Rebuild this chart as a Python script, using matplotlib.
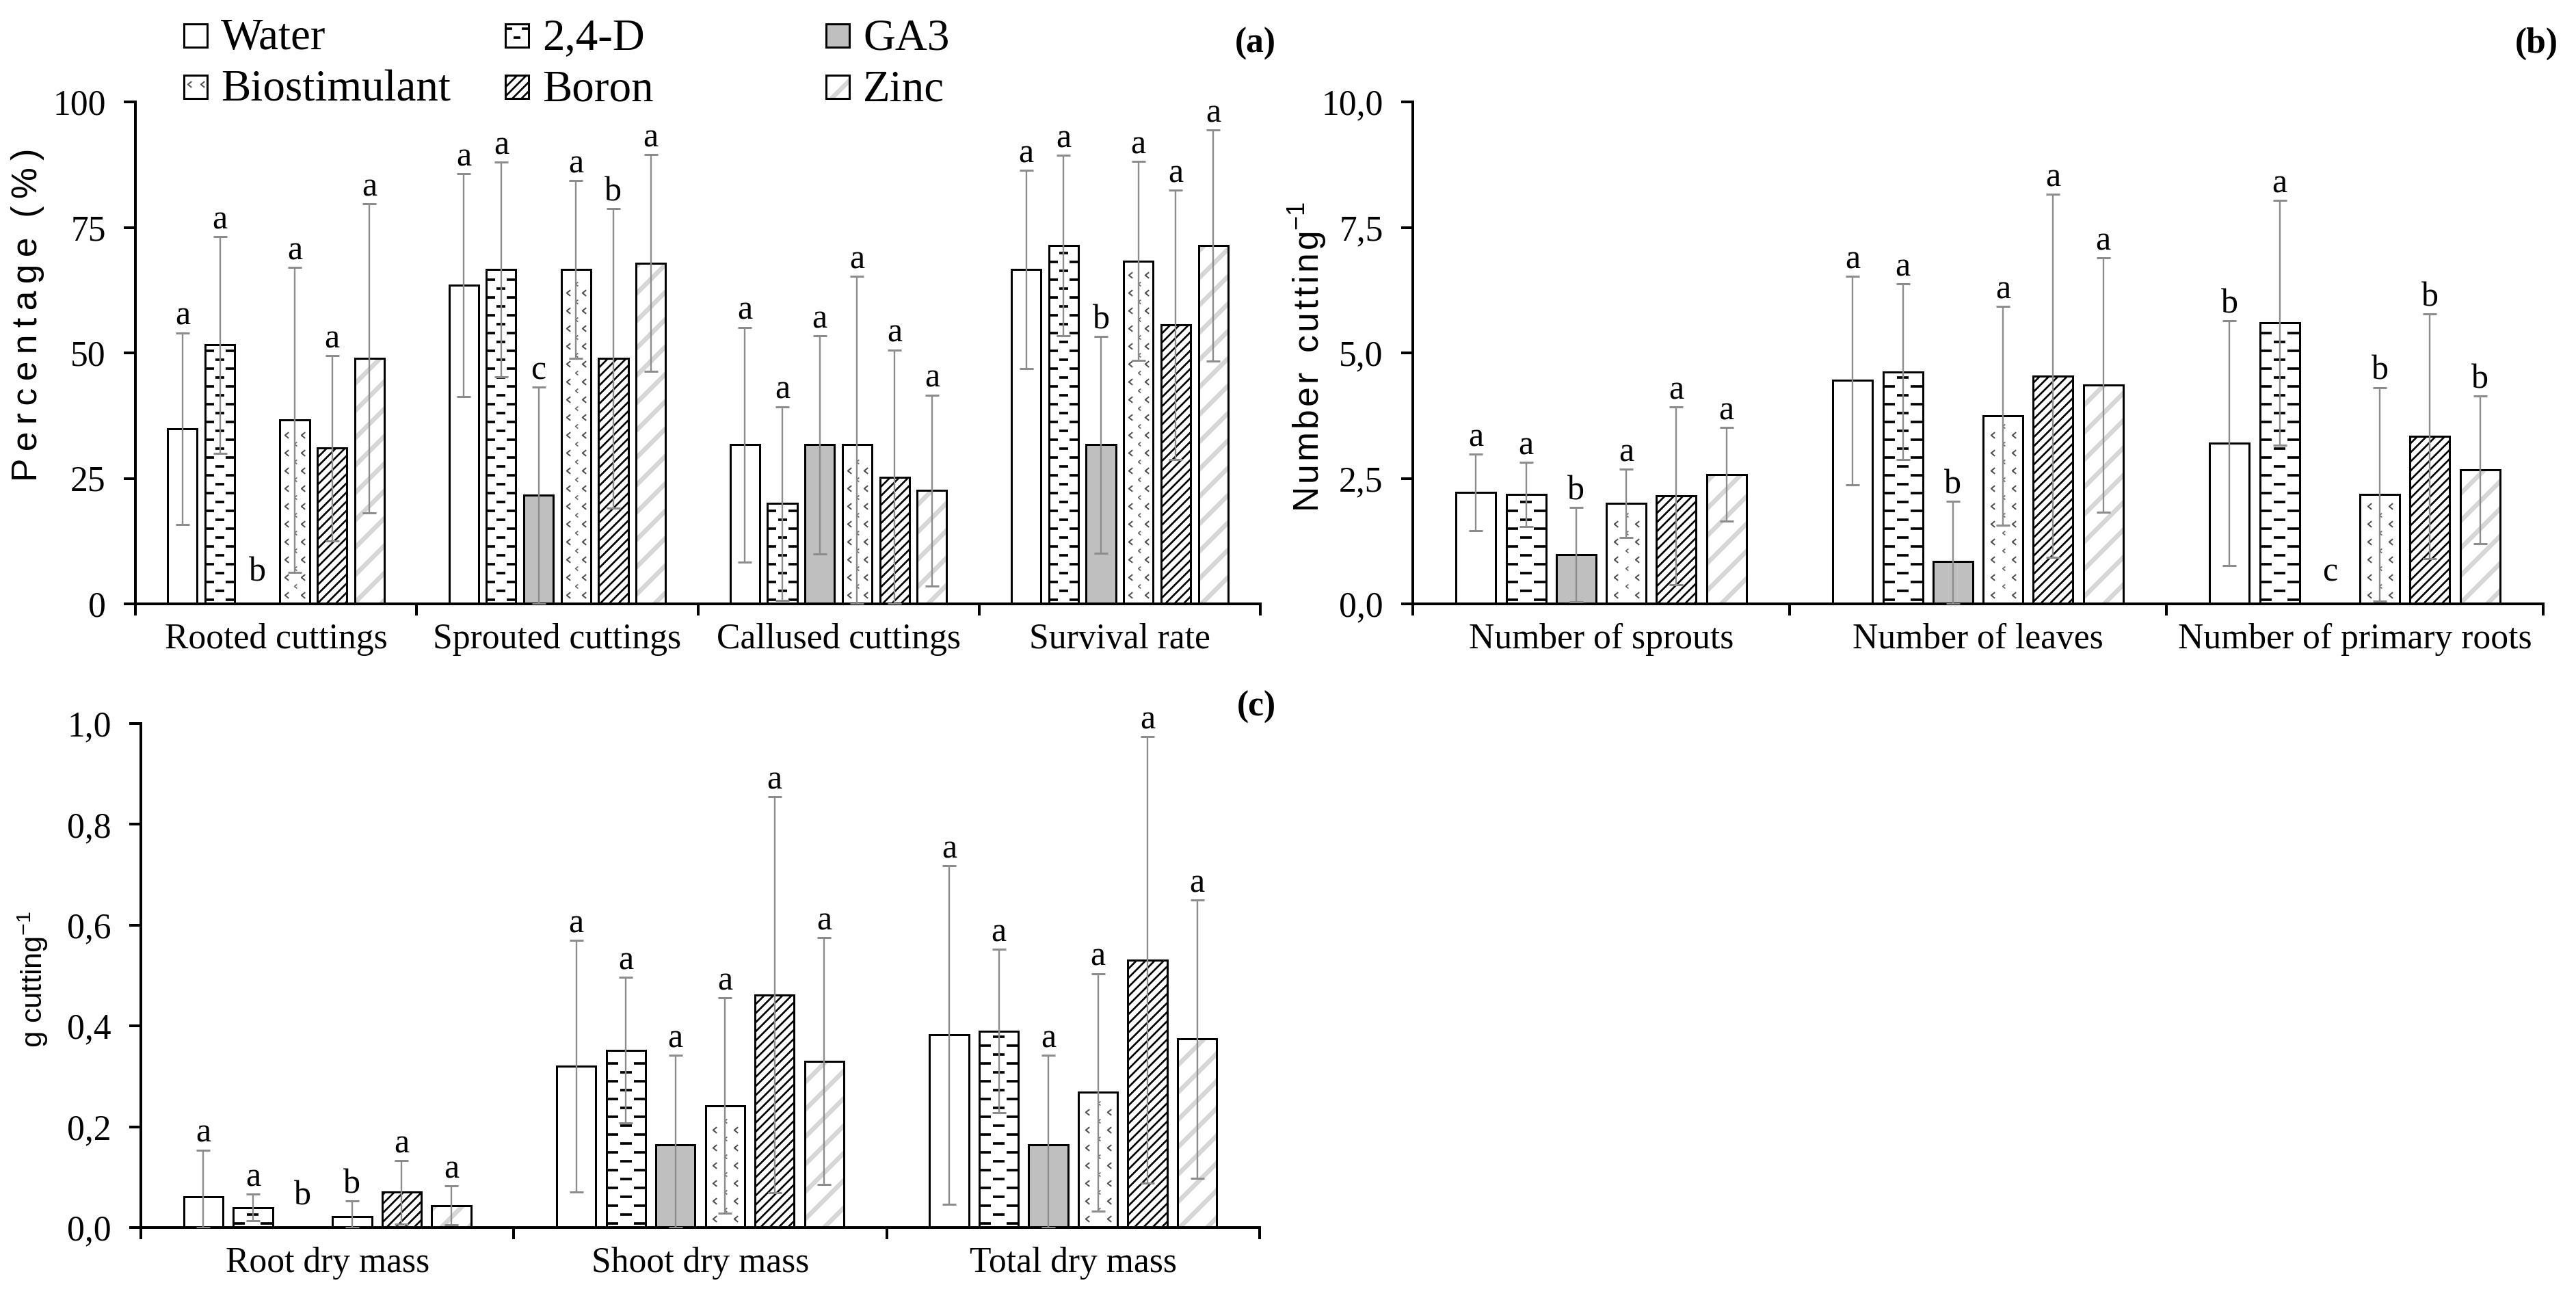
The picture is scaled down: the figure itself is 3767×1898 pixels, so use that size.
import numpy as np
import matplotlib.pyplot as plt
from matplotlib.path import Path
from matplotlib.collections import LineCollection

W, H, DPI = 3767, 1898, 240

plt.rcParams['font.family'] = ['Liberation Serif', 'DejaVu Serif']
plt.rcParams['hatch.linewidth'] = 0.8

treatments = ['Water', '2,4-D', 'GA3', 'Biostimulant', 'Boron', 'Zinc']

# (a) percentage
cats_a = ['Rooted cuttings', 'Sprouted cuttings', 'Callused cuttings', 'Survival rate']
mean_a = [[34.9, 51.6, 0.0, 36.6, 31.0, 48.9],
          [63.5, 66.6, 21.6, 66.6, 48.9, 67.9],
          [31.7, 20.0, 31.7, 31.7, 25.2, 22.6],
          [66.6, 71.4, 31.7, 68.3, 55.6, 71.4]]
sd_a = [[19.1, 21.6, 0.0, 30.4, 18.5, 30.8],
        [22.2, 21.4, 21.6, 17.7, 29.8, 21.6],
        [23.4, 19.3, 21.7, 33.5, 25.4, 19.0],
        [19.8, 18.0, 21.6, 19.8, 26.8, 23.0]]
let_a = [['a', 'a', 'b', 'a', 'a', 'a'],
         ['a', 'a', 'c', 'a', 'b', 'a'],
         ['a', 'a', 'a', 'a', 'a', 'a'],
         ['a', 'a', 'b', 'a', 'a', 'a']]

# (b) number per cutting
cats_b = ['Number of sprouts', 'Number of leaves', 'Number of primary roots']
mean_b = [[2.22, 2.18, 0.98, 2.00, 2.15, 2.58],
          [4.45, 4.62, 0.84, 3.74, 4.54, 4.36],
          [3.20, 5.60, 0.0, 2.18, 3.34, 2.67]]
sd_b = [[0.76, 0.64, 0.94, 0.68, 1.77, 0.93],
        [2.08, 1.75, 1.20, 2.18, 3.62, 2.53],
        [2.44, 2.44, 0.0, 2.13, 2.44, 1.47]]
let_b = [['a', 'a', 'b', 'a', 'a', 'a'],
         ['a', 'a', 'b', 'a', 'a', 'a'],
         ['b', 'a', 'c', 'b', 'b', 'b']]

# (c) dry mass
cats_c = ['Root dry mass', 'Shoot dry mass', 'Total dry mass']
mean_c = [[0.061, 0.040, 0.0, 0.022, 0.070, 0.044],
          [0.320, 0.352, 0.164, 0.242, 0.462, 0.330],
          [0.382, 0.390, 0.164, 0.268, 0.531, 0.374]]
sd_c = [[0.093, 0.026, 0.0, 0.031, 0.063, 0.039],
        [0.250, 0.144, 0.178, 0.214, 0.393, 0.245],
        [0.336, 0.162, 0.178, 0.236, 0.443, 0.276]]
let_c = [['a', 'a', 'b', 'b', 'a', 'a'],
         ['a', 'a', 'a', 'a', 'a', 'a'],
         ['a', 'a', 'a', 'a', 'a', 'a']]

chevron = Path([(0.5, 0.8), (-0.5, 0.0), (0.5, -0.8)],
               [Path.MOVETO, Path.LINETO, Path.LINETO])


def draw_bar(ax, k, x0, w, y0, y1, sx, sy):
    # sx, sy: pixels per data unit
    lo, hi = min(y0, y1), max(y0, y1)
    hpx = (hi - lo) * abs(sy)
    if k == 2:
        ax.bar(x0, y1 - y0, w, y0, align='edge', color='#bfbfbf', edgecolor='black', lw=0.9, zorder=2)
        return
    if k == 4:
        b = ax.bar(x0, y1 - y0, w, y0, align='edge', color='white', edgecolor='black',
                   hatch='//////', lw=0.9, zorder=2)
        for p in b:
            if hasattr(p, 'set_hatch_linewidth'):
                p.set_hatch_linewidth(0.8)
        return
    if k == 5:
        b = ax.bar(x0, y1 - y0, w, y0, align='edge', color='white', edgecolor='#d6d6d6',
                   hatch='//', lw=0, zorder=2)
        for p in b:
            if hasattr(p, 'set_hatch_linewidth'):
                p.set_hatch_linewidth(2.0)
        ax.bar(x0, y1 - y0, w, y0, align='edge', fill=False, edgecolor='black', lw=0.9, zorder=3)
        return
    ax.bar(x0, y1 - y0, w, y0, align='edge', color='white', edgecolor='black', lw=0.9, zorder=2)
    if k == 1:
        step = 13.0 / abs(sy)
        n = int(hpx / 13.0)
        segs = []
        for r in range(n):
            y = lo + step * (r + 0.5)
            if r % 2 == 0:
                segs.append([(x0, y), (x0 + 0.3 * w, y)])
                segs.append([(x0 + 0.7 * w, y), (x0 + w, y)])
            else:
                segs.append([(x0 + 0.35 * w, y), (x0 + 0.65 * w, y)])
        ax.add_collection(LineCollection(segs, colors='black', linewidths=1.1, zorder=2.5))
    elif k == 3:
        step = 26.0 / abs(sy)
        n = int(hpx / 26.0)
        ys = lo + step * (np.arange(n) + 0.5)
        for fx in (0.23, 0.78):
            ax.plot(np.full(n, x0 + fx * w), ys, ls='none', marker=chevron, ms=2.6,
                    mfc='none', mec='#4d4d4d', mew=0.6, zorder=2.5)
        m = int((hpx - 13.0) / 26.0)
        if m > 0:
            ym = lo + step * (np.arange(m) + 1.0)
            ax.plot(np.full(m, x0 + 0.52 * w), ym, ls='none', marker=chevron, ms=1.8,
                    mfc='none', mec='#666666', mew=0.5, zorder=2.5)


fig = plt.figure(figsize=(W / DPI, H / DPI), dpi=DPI)


def panel(rect, cats, means, sds, lets, ymax, yticks, ylabs):
    ax = fig.add_axes(rect)
    n = len(cats)
    ax.set_xlim(0, n)
    ax.set_ylim(0, ymax)
    for s in ['top', 'right']:
        ax.spines[s].set_visible(False)
    for s in ['left', 'bottom']:
        ax.spines[s].set_linewidth(1.2)
    ax.set_yticks(yticks)
    ax.set_yticklabels(ylabs)
    ax.set_xticks(np.arange(n) + 0.5)
    ax.set_xticklabels(cats)
    ax.set_xticks(np.arange(n + 1), minor=True)
    ax.tick_params(axis='x', which='major', length=0, pad=8.5, labelsize=15.5)
    ax.tick_params(axis='x', which='minor', length=5, width=1.2, direction='out')
    ax.tick_params(axis='y', length=5, width=1.2, pad=8, labelsize=15.5)
    sx = rect[2] * W / n
    sy = rect[3] * H / ymax
    w, stepx = 0.105, 0.133
    for c in range(n):
        for k in range(6):
            xc = c + 0.5 + (k - 2.5) * stepx
            m, s = means[c][k], sds[c][k]
            if m > 0:
                draw_bar(ax, k, xc - w / 2, w, 0, m, sx, sy)
            if s > 0:
                ax.errorbar(xc, m, yerr=[[min(s, m)], [s]], fmt='none', ecolor='#8c8c8c',
                            elinewidth=0.7, capsize=3, capthick=0.9, zorder=4)
            top = m + s
            off = 3.5 if top > 0 else 10
            ax.annotate(lets[c][k], (xc, top), xytext=(0, off), textcoords='offset points',
                        ha='center', va='baseline', fontsize=15)
    return ax


ax_a = panel([198 / W, 1 - 883 / H, 1645 / W, 734 / H], cats_a, mean_a, sd_a, let_a,
             100, [0, 25, 50, 75, 100], ['0', '25', '50', '75', '100'])
ax_b = panel([2066 / W, 1 - 883 / H, 1653 / W, 734 / H], cats_b, mean_b, sd_b, let_b,
             10, [0, 2.5, 5, 7.5, 10], ['0,0', '2,5', '5,0', '7,5', '10,0'])
ax_c = panel([206 / W, 1 - 1795 / H, 1636 / W, 737 / H], cats_c, mean_c, sd_c, let_c,
             1.0, [0, 0.2, 0.4, 0.6, 0.8, 1.0], ['0,0', '0,2', '0,4', '0,6', '0,8', '1,0'])

sans = ['Liberation Sans', 'DejaVu Sans']
fig.text(41 / W, 1 - 460 / H, '\u2009'.join('Percentage') + '  ' + '\u2009'.join('(%)'),
         rotation=90, ha='center', va='center', family=sans, fontsize=15.5)
fig.text(1912 / W, 1 - 522 / H, '\u200a'.join('Number') + '  ' + '\u200a'.join('cutting')
         + r'$^{\mathregular{-1}}$', rotation=90, ha='center', va='center',
         family=sans, fontsize=15.5)
fig.text(48 / W, 1 - 1432 / H, r'g cutting$^{\mathregular{-1}}$', rotation=90,
         ha='center', va='center', family=sans, fontsize=13)

fig.text(1836 / W, 1 - 64 / H, '(a)', ha='center', va='center', weight='bold', fontsize=15.5)
fig.text(3709 / W, 1 - 64 / H, '(b)', ha='center', va='center', weight='bold', fontsize=15.5)
fig.text(1837 / W, 1 - 1034 / H, '(c)', ha='center', va='center', weight='bold', fontsize=15.5)

# legend drawn in pixel coordinates
lax = fig.add_axes([0, 0, 1, 1], zorder=5)
lax.set_xlim(0, W)
lax.set_ylim(H, 0)
lax.axis('off')
col_x = [269, 739, 1208]
row_y = [35, 110]
for k, name in enumerate(treatments):
    bx, by = col_x[k % 3], row_y[k // 3]
    draw_bar(lax, k, bx, 34, by + 34, by, 1.0, 1.0)
    lax.text(bx + 54, by + 37, name, va='baseline', ha='left', fontsize=19.5)

fig.savefig('out.png', dpi=DPI)
